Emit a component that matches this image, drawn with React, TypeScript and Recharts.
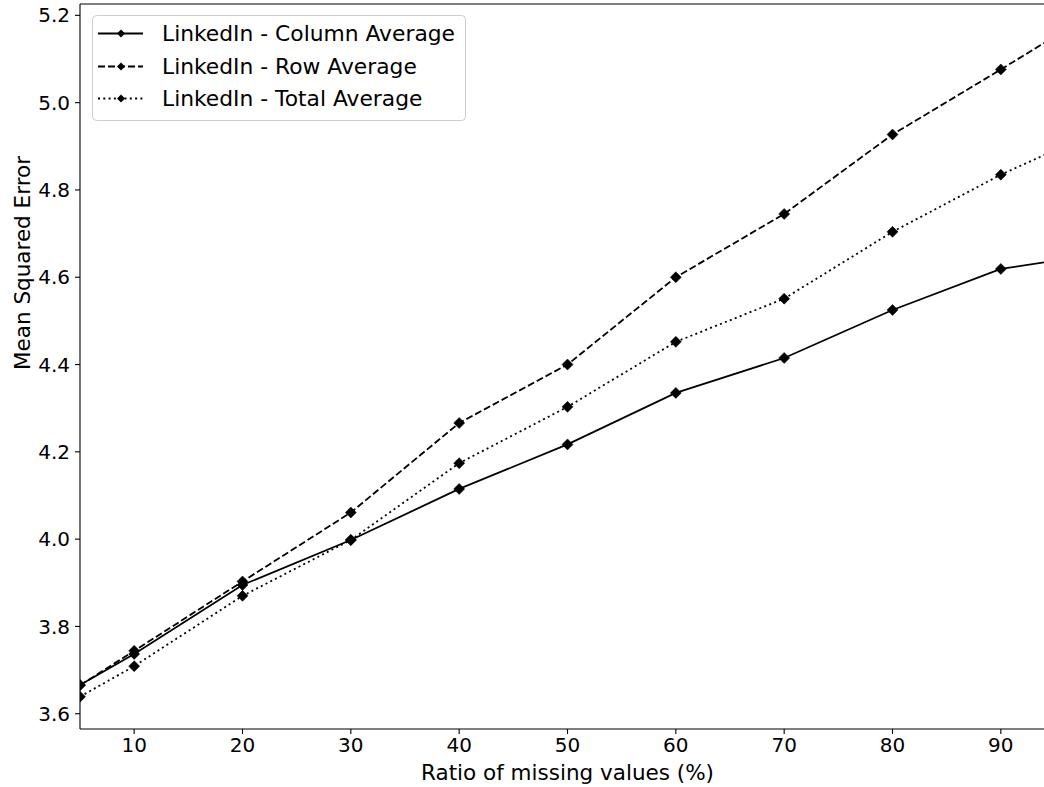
import React from 'react';
import { LineChart, Line, XAxis, YAxis, Legend, ReferenceLine } from 'recharts';

const ratios = [5, 10, 20, 30, 40, 50, 60, 70, 80, 90, 95];
const columnAvg = [3.666, 3.737, 3.895, 3.998, 4.115, 4.217, 4.335, 4.415, 4.525, 4.619, 4.638];
const rowAvg = [3.665, 3.744, 3.903, 4.061, 4.266, 4.4, 4.6, 4.745, 4.927, 5.076, 5.152];
const totalAvg = [3.639, 3.709, 3.87, 3.998, 4.174, 4.303, 4.452, 4.551, 4.704, 4.835, 4.891];

const xTicks = [10, 20, 30, 40, 50, 60, 70, 80, 90];
const yTicks = [3.6, 3.8, 4.0, 4.2, 4.4, 4.6, 4.8, 5.0, 5.2];
const xDomain = [5, 95];
const yDomain = [3.565, 5.226];

const seriesNames = [
  'LinkedIn - Column Average',
  'LinkedIn - Row Average',
  'LinkedIn - Total Average',
];
const seriesKeys = ['col', 'row', 'total'];
const seriesDash = ['', '7 3', '2 3.3'];

const data = ratios.map((r, i) => ({
  ratio: r,
  col: columnAvg[i],
  row: rowAvg[i],
  total: totalAvg[i],
}));

const FONT = 'DejaVu Sans';
const MARKER = 5.5;

const Diamond = (props: any) => {
  const { cx, cy } = props;
  const r = MARKER;
  if (cx == null || cy == null) return null;
  return (
    <polygon
      points={`${cx},${cy - r} ${cx + r},${cy} ${cx},${cy + r} ${cx - r},${cy}`}
      fill="#000"
      stroke="#000"
      strokeWidth={0.5}
    />
  );
};

const LegendBox = () => {
  const rowsY = [18.5, 51.5, 83.5];
  return (
    <svg width={374} height={106} style={{ display: 'block' }}>
      <rect x={0.5} y={0.5} width={373} height={105} rx={4} ry={4} fill="rgba(255,255,255,0.8)" stroke="#cccccc" strokeWidth={1} />
      {seriesNames.map((name, i) => (
        <g key={name}>
          <line x1={6} x2={51} y1={rowsY[i]} y2={rowsY[i]} stroke="#000" strokeWidth={1.8} strokeDasharray={seriesDash[i] || undefined} />
          <polygon
            points={`29,${rowsY[i] - 4} 33,${rowsY[i]} 29,${rowsY[i] + 4} 25,${rowsY[i]}`}
            fill="#000"
          />
          <text x={70} y={rowsY[i]} dy="0.36em" fontFamily={FONT} fontSize={21.8} fill="#000">
            {name}
          </text>
        </g>
      ))}
    </svg>
  );
};

const YLabel = (props: any) => {
  const vb = props.viewBox || { x: 0, y: 0, width: 80, height: 725 };
  const x = vb.x + 22;
  const y = 263;
  return (
    <text
      x={x}
      y={y}
      transform={`rotate(-90, ${x}, ${y})`}
      textAnchor="middle"
      dominantBaseline="central"
      fontFamily={FONT}
      fontSize={21.5}
      fill="#000"
    >
      Mean Squared Error
    </text>
  );
};

const XLabel = (props: any) => {
  const vb = props.viewBox || { x: 80, y: 729, width: 975, height: 58 };
  return (
    <text
      x={vb.x + vb.width / 2}
      y={vb.y + 51}
      textAnchor="middle"
      fontFamily={FONT}
      fontSize={21.5}
      fill="#000"
    >
      Ratio of missing values (%)
    </text>
  );
};

export default function App() {
  return (
    <div
      style={{
        position: 'absolute',
        left: 0,
        top: 0,
        width: 1044,
        height: 787,
        overflow: 'hidden',
        background: '#fff',
      }}
    >
      <LineChart
        width={1060}
        height={787}
        data={data}
        margin={{ top: 4, right: 5, left: 0, bottom: 0 }}
      >
        <XAxis
          dataKey="ratio"
          type="number"
          domain={xDomain}
          ticks={xTicks}
          allowDataOverflow
          height={58}
          tickSize={5}
          tickMargin={4}
          axisLine={{ stroke: '#000', strokeWidth: 1.1 }}
          tickLine={{ stroke: '#000', strokeWidth: 1.1 }}
          tick={{ fontFamily: FONT, fontSize: 20, fill: '#000' }}
          label={<XLabel />}
        />
        <YAxis
          type="number"
          domain={yDomain}
          ticks={yTicks}
          allowDataOverflow
          width={80}
          tickSize={5}
          tickMargin={5}
          tickFormatter={(v: number) => v.toFixed(1)}
          axisLine={{ stroke: '#000', strokeWidth: 1.1 }}
          tickLine={{ stroke: '#000', strokeWidth: 1.1 }}
          tick={{ fontFamily: FONT, fontSize: 20, fill: '#000' }}
          label={<YLabel />}
        />
        <ReferenceLine y={yDomain[1]} stroke="#000" strokeWidth={1.1} />
        <ReferenceLine x={xDomain[1]} stroke="#000" strokeWidth={1.1} />
        {seriesKeys.map((k, i) => (
          <Line
            key={k}
            dataKey={k}
            name={seriesNames[i]}
            type="linear"
            stroke="#000"
            strokeWidth={1.8}
            strokeDasharray={seriesDash[i] || undefined}
            dot={<Diamond />}
            activeDot={false}
            isAnimationActive={false}
          />
        ))}
        <Legend
          layout="vertical"
          verticalAlign="middle"
          align="center"
          wrapperStyle={{ position: 'absolute', left: 92, top: 15, width: 374, height: 106 }}
          content={() => <LegendBox />}
        />
      </LineChart>
    </div>
  );
}
